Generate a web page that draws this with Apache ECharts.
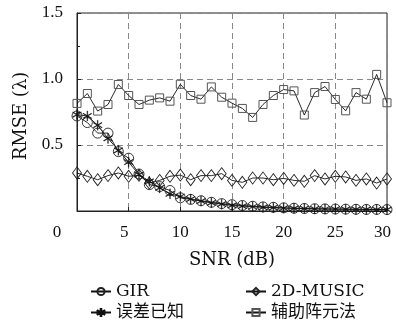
<!DOCTYPE html>
<html>
<head>
<meta charset="utf-8">
<script src="https://cdn.jsdelivr.net/npm/echarts@6/dist/echarts.min.js"></script>
<style>html,body{margin:0;padding:0;background:#fff;}#c{width:396px;height:331px;}</style>
</head>
<body>
<div id="c"></div>
<script>
const snr = [0,1,2,3,4,5,6,7,8,9,10,11,12,13,14,15,16,17,18,19,20,21,22,23,24,25,26,27,28,29,30];
const gir = [0.72,0.67,0.59,0.59,0.45,0.40,0.28,0.20,0.185,0.155,0.10,0.088,0.078,0.066,0.056,0.048,0.042,0.036,0.031,0.028,0.024,0.021,0.019,0.017,0.016,0.015,0.014,0.013,0.012,0.012,0.011];
const music2d = [0.288,0.263,0.237,0.268,0.288,0.263,0.27,0.212,0.232,0.263,0.272,0.237,0.268,0.268,0.283,0.232,0.217,0.25,0.25,0.237,0.247,0.232,0.225,0.268,0.243,0.263,0.258,0.232,0.243,0.212,0.243];
const knownErr = [0.73,0.72,0.65,0.55,0.46,0.37,0.275,0.225,0.175,0.13,0.11,0.09,0.075,0.062,0.052,0.042,0.037,0.032,0.028,0.025,0.022,0.02,0.018,0.016,0.015,0.014,0.013,0.012,0.012,0.011,0.01];
const auxArray = [0.815,0.89,0.757,0.807,0.958,0.875,0.807,0.84,0.857,0.832,0.96,0.875,0.847,0.94,0.862,0.817,0.777,0.709,0.807,0.875,0.92,0.91,0.727,0.897,0.943,0.845,0.759,0.897,0.847,1.035,0.82];
const seriesNames = ['GIR','2D-MUSIC','误差已知','辅助阵元法'];

const pair = arr => snr.map((x,i)=>[x,arr[i]]);
const asterisk = 'path://M-0.08 -1L0.08 -1L0.08 1L-0.08 1Z M0.826 0.569L0.906 0.431L-0.826 -0.569L-0.906 -0.431Z M-0.826 0.569L-0.906 0.431L0.826 -0.569L0.906 -0.431Z';
const serif = "'DejaVu Serif', 'Noto Sans CJK SC', serif";
const tickFont = "'Liberation Serif', serif";
const hollow = 'rgba(0,0,0,0)';

const chart = echarts.init(document.getElementById('c'));
chart.setOption({
  animation: false,
  backgroundColor: '#fff',
  grid: { left: 77, right: 9, top: 13, bottom: 120, show: true, borderColor: '#222', borderWidth: 1 },
  xAxis: {
    type: 'value', min: 0, max: 30, interval: 5,
    name: 'SNR (dB)', nameLocation: 'middle', nameGap: 40,
    nameTextStyle: { fontFamily: serif, fontSize: 18, color: '#111' },
    axisLine: { show: true, lineStyle: { color: '#222' } },
    axisTick: { show: true, inside: true, length: 4, lineStyle: { color: '#222' } },
    axisLabel: {
      margin: 13, fontFamily: tickFont, fontSize: 17, color: '#111',
      formatter: v => v === 0 ? '{z|0}' : (v === 5 || v === 30) ? '{s|' + v + '}' : String(v),
      rich: {
        z: { fontFamily: tickFont, fontSize: 17, color: '#111', padding: [0, 40, 0, 0] },
        s: { fontFamily: tickFont, fontSize: 17, color: '#111', padding: [0, 9, 0, 0] }
      }
    },
    splitLine: { show: true, lineStyle: { color: '#888', type: [6, 4], width: 1 } }
  },
  yAxis: {
    type: 'value', min: 0, max: 1.5, interval: 0.5,
    name: 'RMSE (λ)', nameLocation: 'middle', nameGap: 47, nameRotate: 90,
    nameTextStyle: { fontFamily: serif, fontSize: 18, color: '#111', padding: [0, 8, 0, 0] },
    axisLine: { show: true, lineStyle: { color: '#222' } },
    axisTick: { show: true, inside: true, length: 4, lineStyle: { color: '#222' } },
    minorTick: { show: true, splitNumber: 2, length: 3, lineStyle: { color: '#222' } },
    axisLabel: {
      margin: 14, fontFamily: tickFont, fontSize: 17, color: '#111',
      formatter: v => v === 0 ? '' : v.toFixed(1)
    },
    splitLine: { show: true, lineStyle: { color: '#888', type: [6, 4], width: 1 } }
  },
  legend: [
    { orient: 'vertical', left: 90, top: 283, padding: 0, itemWidth: 20, itemHeight: 9, itemGap: 4,
      textStyle: { fontFamily: serif, fontSize: 17, color: '#111' }, data: [seriesNames[0], seriesNames[2]] },
    { orient: 'vertical', left: 245, top: 283, padding: 0, itemWidth: 20, itemHeight: 9, itemGap: 4,
      textStyle: { fontFamily: serif, fontSize: 17, color: '#111' }, data: [seriesNames[1], seriesNames[3]] }
  ],
  series: [
    { name: seriesNames[3], type: 'line', data: pair(auxArray), symbol: 'rect', symbolSize: 8,
      lineStyle: { color: '#111', width: 0.9 },
      itemStyle: { color: hollow, borderColor: '#555', borderWidth: 1 } },
    { name: seriesNames[1], type: 'line', data: pair(music2d), symbol: 'diamond', symbolSize: [9, 12],
      lineStyle: { color: '#111', width: 0.9 },
      itemStyle: { color: hollow, borderColor: '#222', borderWidth: 0.9 } },
    { name: seriesNames[0], type: 'line', data: pair(gir), symbol: 'circle', symbolSize: 10,
      lineStyle: { color: '#111', width: 0.9 },
      itemStyle: { color: hollow, borderColor: '#222', borderWidth: 0.9 } },
    { name: seriesNames[2], type: 'line', data: pair(knownErr), symbol: asterisk, symbolSize: [9, 10],
      lineStyle: { color: '#111', width: 0.9 },
      itemStyle: { color: '#111', borderColor: '#111', borderWidth: 0.3 } }
  ]
});
</script>
</body>
</html>
